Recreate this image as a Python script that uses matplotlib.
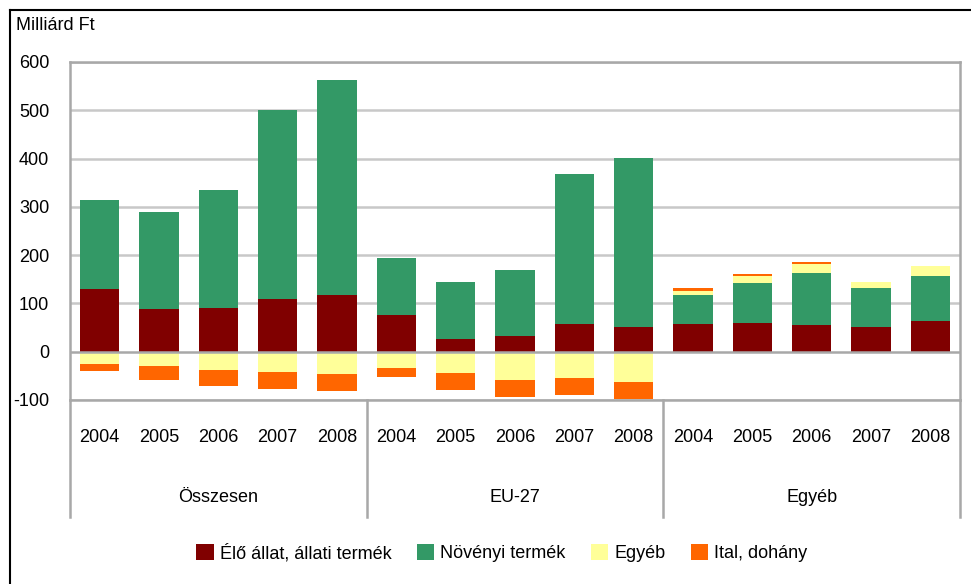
import matplotlib
matplotlib.use("Agg")
import matplotlib.pyplot as plt
import matplotlib.transforms as mtransforms
from matplotlib.lines import Line2D
from matplotlib.patches import Patch
import numpy as np

plt.rcParams['font.family'] = ['Liberation Sans', 'DejaVu Sans']

groups = ["Összesen", "EU-27", "Egyéb"]
years = ["2004", "2005", "2006", "2007", "2008"]
series_names = ["Élő állat, állati termék", "Növényi termék", "Egyéb", "Ital, dohány"]
colors = ["#800000", "#339966", "#FFFF99", "#FF6600"]

elo_allat = [130, 88, 90, 109, 117,   77, 27, 33, 58, 52,   58, 60, 56, 52, 64]
novenyi = [184, 201, 244, 391, 445,   117, 118, 137, 310, 349,   60, 83, 107, 80, 93]
egyeb = [-25, -30, -38, -42, -46,   -33, -45, -58, -54, -62,   8, 14, 19, 13, 21]
ital = [-14, -29, -34, -35, -35,   -19, -35, -35, -35, -35,   6, 4, 4, 0, 0]

yticks = [-100, 0, 100, 200, 300, 400, 500, 600]

W, H = 971, 584
fig = plt.figure(figsize=(W / 100, H / 100), dpi=100)
ax = fig.add_axes([70 / W, 1 - 400 / H, 890 / W, 338 / H])

n = len(elo_allat)
x = np.arange(n)
data = [elo_allat, novenyi, egyeb, ital]
pos_base = np.zeros(n)
neg_base = np.zeros(n)
for vals, col in zip(data, colors):
    v = np.array(vals, dtype=float)
    bottoms = np.where(v >= 0, pos_base, neg_base)
    ax.bar(x, v, bottom=bottoms, width=0.66, color=col, linewidth=0, zorder=3)
    pos_base = pos_base + np.where(v >= 0, v, 0)
    neg_base = neg_base + np.where(v < 0, v, 0)

ax.set_xlim(-0.5, n - 0.5)
ax.set_ylim(-100, 600)
ax.set_yticks(yticks)
ax.set_yticklabels([str(t) for t in yticks], fontsize=13)
ax.tick_params(axis='y', length=0, pad=15)
ax.set_xticks([])
for t in yticks:
    ax.axhline(t, color="#c8c8c8" if t != 0 else "#a8a8a8", linewidth=1.8, zorder=1 if t != 0 else 4)
for s in ax.spines.values():
    s.set_color("#a8a8a8")
    s.set_linewidth(1.8)

trans = mtransforms.blended_transform_factory(ax.transData, ax.transAxes)
for i in range(n):
    ax.text(x[i], -0.11, years[i % 5], transform=trans, ha='center', va='center', fontsize=13)
for g, name in enumerate(groups):
    ax.text(g * 5 + 2, -0.288, name, transform=trans, ha='center', va='center', fontsize=13)
for xs in [-0.5, 4.5, 9.5, 14.5]:
    ax.add_line(Line2D([xs, xs], [0, -0.346], transform=trans, color="#a8a8a8",
                       linewidth=1.8, clip_on=False))

fig.text(16 / W, 1 - 25 / H, "Milliárd Ft", ha='left', va='center', fontsize=13)

# outer frame
fig.add_artist(Line2D([10 / W, 1], [1 - 10 / H, 1 - 10 / H], transform=fig.transFigure, color="black", linewidth=1.5))
fig.add_artist(Line2D([10 / W, 10 / W], [0, 1 - 10 / H], transform=fig.transFigure, color="black", linewidth=1.5))

handles = [Patch(facecolor=c, edgecolor='none') for c in colors]
fig.legend(handles, series_names, loc='center', bbox_to_anchor=(502 / W, 1 - 553 / H), ncol=4,
           frameon=False, fontsize=13, handlelength=0.95, handleheight=0.95, handletextpad=0.35,
           columnspacing=1.4)

fig.savefig("out.png", dpi=100)
